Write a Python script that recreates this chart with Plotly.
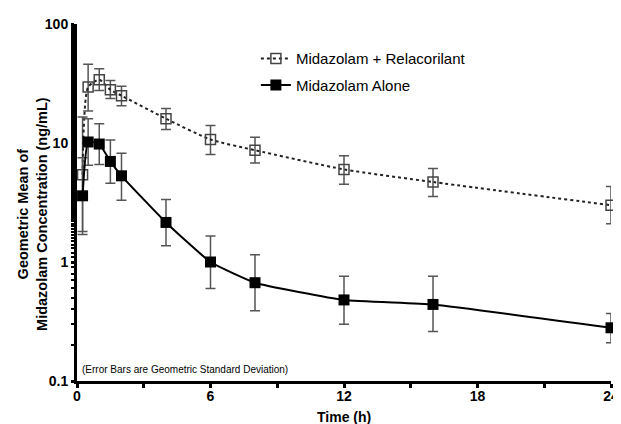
import plotly.graph_objects as go

time = [0.25, 0.5, 1, 1.5, 2, 4, 6, 8, 12, 16, 24]

rel_mean = [5.4, 29.5, 34, 28, 25, 16, 10.7, 8.7, 6.0, 4.7, 3.0]
rel_hi = [16.5, 46, 42, 33.5, 30, 19.5, 14, 11.2, 7.8, 6.1, 4.3]
rel_lo = [1.8, 18.6, 27.6, 23.6, 20.6, 13, 8.0, 6.8, 4.5, 3.55, 2.1]

alone_mean = [3.6, 10.2, 9.8, 7.0, 5.3, 2.15, 1.0, 0.67, 0.48, 0.44, 0.28]
alone_hi = [7.5, 16, 14.5, 10.6, 8.2, 3.35, 1.65, 1.15, 0.76, 0.76, 0.37]
alone_lo = [1.7, 6.5, 6.6, 4.6, 3.3, 1.37, 0.6, 0.39, 0.30, 0.26, 0.21]

x_ticks = [0, 6, 12, 18, 24]
x_minor = [0, 3, 6, 9, 12, 15, 18, 21, 24]
y_ticks = [0.1, 1, 10, 100]
y_ticklabels = ["0.1", "1", "10", "100"]

font = "Liberation Sans, Arial, sans-serif"

fig = go.Figure()

fig.add_trace(go.Scatter(
    x=time, y=rel_mean, mode="lines+markers", name="Midazolam + Relacorilant",
    legendgroup="a",
    line=dict(color="#222222", width=2, dash="dot", shape="spline", smoothing=0.6),
    marker=dict(symbol="square-open", size=10, color="#444444", line=dict(width=1.5)),
    error_y=dict(type="data", symmetric=False,
                 array=[h - m for h, m in zip(rel_hi, rel_mean)],
                 arrayminus=[m - l for l, m in zip(rel_lo, rel_mean)],
                 color="#555555", thickness=1.5, width=5),
    cliponaxis=False,
))

fig.add_trace(go.Scatter(
    x=time, y=alone_mean, mode="lines+markers", name="Midazolam Alone",
    legendgroup="b",
    line=dict(color="black", width=2, shape="spline", smoothing=0.4),
    marker=dict(symbol="square", size=11, color="black"),
    error_y=dict(type="data", symmetric=False,
                 array=[h - m for h, m in zip(alone_hi, alone_mean)],
                 arrayminus=[m - l for l, m in zip(alone_lo, alone_mean)],
                 color="#555555", thickness=1.5, width=5),
    cliponaxis=False,
))

fig.add_annotation(
    text="(Error Bars are Geometric Standard Deviation)",
    xref="paper", yref="paper", x=0.006, y=0.031, xanchor="left", yanchor="middle",
    showarrow=False, font=dict(size=10, family=font, color="black"),
)
fig.add_annotation(
    text="<b>Geometric Mean of<br>Midazolam Concentration (ng/mL)</b>",
    xref="paper", yref="paper", x=-0.0824, y=0.468, xanchor="center", yanchor="middle",
    textangle=-90, showarrow=False, font=dict(size=14.5, family=font, color="black"),
)
fig.add_annotation(
    text="<b>Time (h)</b>",
    xref="paper", yref="paper", x=0.5, y=-0.1, xanchor="center", yanchor="middle",
    showarrow=False, font=dict(size=14, family=font, color="black"),
)

fig.update_layout(
    width=621, height=424,
    margin=dict(l=69, r=18, t=16, b=51),
    paper_bgcolor="white", plot_bgcolor="white",
    font=dict(family=font, color="black"),
    showlegend=True,
    legend=dict(x=0.335, y=0.949, xanchor="left", yanchor="top",
                font=dict(size=15, family=font), tracegroupgap=4,
                bgcolor="rgba(0,0,0,0)"),
    xaxis=dict(range=[0, 24], tickvals=x_ticks, ticktext=["<b>%d</b>" % t for t in x_ticks],
               ticks="", showline=True, linewidth=3, linecolor="black",
               showgrid=False, zeroline=False, automargin=False,
               ticklabeloverflow="allow",
               tickfont=dict(size=14, family=font),
               minor=dict(tickvals=x_minor, ticks="outside", ticklen=4, tickwidth=3,
                          tickcolor="black", showgrid=False)),
    yaxis=dict(type="log", range=[-1, 2], tickvals=y_ticks,
               ticktext=["<b>%s</b>" % t for t in y_ticklabels],
               ticks="outside", ticklen=3, tickwidth=3, tickcolor="black",
               showline=True, linewidth=3, linecolor="black",
               showgrid=False, zeroline=False, automargin=False,
               tickfont=dict(size=14, family=font),
               minor=dict(ticks="outside", ticklen=3, tickwidth=2, tickcolor="black",
                          showgrid=False)),
)

fig.write_html("out.html")
